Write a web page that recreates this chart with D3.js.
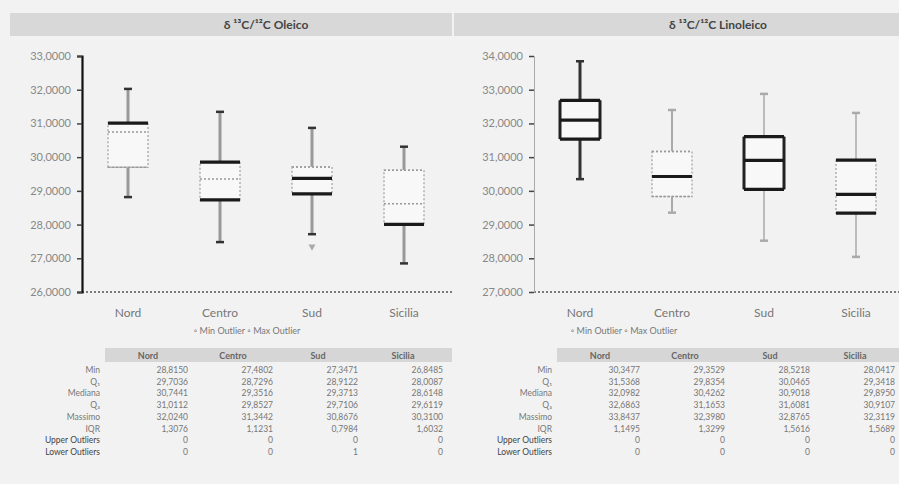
<!DOCTYPE html>
<html>
<head>
<meta charset="utf-8">
<script src="https://cdn.jsdelivr.net/npm/d3@7"></script>
<style>
body { margin: 0; background: #f2f2f2; font-family: Lato, 'Open Sans', sans-serif; }
svg { display: block; }
</style>
</head>
<body>
<script>
const categories = ['Nord', 'Centro', 'Sud', 'Sicilia']
const rowLabels = ['Min', 'Q\u2081', 'Mediana', 'Q\u2083', 'Massimo', 'IQR', 'Upper Outliers', 'Lower Outliers']

// δ13C/12C Oleico
const oleicoTicks = [26, 27, 28, 29, 30, 31, 32, 33]
const oleicoMin = [28.8150, 27.4802, 27.3471, 26.8485]
const oleicoQ1 = [29.7036, 28.7296, 28.9122, 28.0087]
const oleicoMedian = [30.7441, 29.3516, 29.3713, 28.6148]
const oleicoQ3 = [31.0112, 29.8527, 29.7106, 29.6119]
const oleicoMax = [32.0240, 31.3442, 30.8676, 30.3100]
const oleicoWhiskerLow = [28.8150, 27.4802, 27.7146, 26.8485]
const oleicoUpperOutliers = [0, 0, 0, 0]
const oleicoLowerOutliers = [0, 0, 1, 0]

// δ13C/12C Linoleico
const linoleicoTicks = [27, 28, 29, 30, 31, 32, 33, 34]
const linoleicoMin = [30.3477, 29.3529, 28.5218, 28.0417]
const linoleicoQ1 = [31.5368, 29.8354, 30.0465, 29.3418]
const linoleicoMedian = [32.0982, 30.4262, 30.9018, 29.8950]
const linoleicoQ3 = [32.6863, 31.1653, 31.6081, 30.9107]
const linoleicoMax = [33.8437, 32.3980, 32.8765, 32.3119]
const linoleicoWhiskerLow = [30.3477, 29.3529, 28.5218, 28.0417]
const linoleicoUpperOutliers = [0, 0, 0, 0]
const linoleicoLowerOutliers = [0, 0, 0, 0]

// which box edges came out dark in the scan
const oleicoStrong = [['q3'], ['q3', 'q1'], ['median', 'q1'], ['q1']]
const linoleicoStrong = [['sides', 'q3', 'median', 'q1'], ['median'], ['sides', 'q3', 'median', 'q1'], ['q3', 'median', 'q1']]

const it = d3.formatLocale({ decimal: ',', thousands: '.', grouping: [3], currency: ['€', ''] })
const fmt = it.format('.4f')

const panels = [
    {
        title: 'δ \u00b9\u00b3C/\u00b9\u00b2C Oleico', ox: 0, width: 452, barX: 10, legendX: 247,
        ticks: oleicoTicks, min: oleicoMin, q1: oleicoQ1, median: oleicoMedian, q3: oleicoQ3, max: oleicoMax,
        whiskerLow: oleicoWhiskerLow, upper: oleicoUpperOutliers, lower: oleicoLowerOutliers,
        strong: oleicoStrong, axisColor: '#111', axisWidth: 2.2,
        whiskerColor: ['#999', '#999', '#999', '#999'], whiskerWidth: [3, 3, 3, 3]
    },
    {
        title: 'δ \u00b9\u00b3C/\u00b9\u00b2C Linoleico', ox: 452, width: 447, barX: 2, legendX: 172,
        ticks: linoleicoTicks, min: linoleicoMin, q1: linoleicoQ1, median: linoleicoMedian, q3: linoleicoQ3, max: linoleicoMax,
        whiskerLow: linoleicoWhiskerLow, upper: linoleicoUpperOutliers, lower: linoleicoLowerOutliers,
        strong: linoleicoStrong, axisColor: '#aaa', axisWidth: 1,
        whiskerColor: ['#333', '#aaa', '#aaa', '#aaa'], whiskerWidth: [3, 2, 1.5, 1.5]
    }
]

const svg = d3.select('body').append('svg')
    .attr('width', 899).attr('height', 484)

panels.forEach((p, pi) => {
    svg.append('clipPath').attr('id', 'clip' + pi)
        .append('rect').attr('x', 0).attr('y', 0).attr('width', p.width).attr('height', 484)

    const g = svg.append('g')
        .attr('transform', `translate(${p.ox},0)`)
        .attr('clip-path', `url(#clip${pi})`)

    const y = d3.scaleLinear().domain([p.ticks[0], p.ticks[p.ticks.length - 1]]).range([292, 56])
    const x = d3.scalePoint().domain(categories).range([82, 450]).padding(0.5)

    // title bar
    g.append('rect').attr('x', p.barX).attr('y', 13).attr('width', 452 - p.barX).attr('height', 23).attr('fill', '#d8d8d8')
    g.append('text').attr('x', 266).attr('y', 29).attr('text-anchor', 'middle')
        .attr('font-size', 12).attr('font-weight', 'bold').attr('fill', '#444').text(p.title)

    // x axis dotted line
    g.append('line').attr('x1', 82).attr('x2', 460).attr('y1', y(p.ticks[0])).attr('y2', y(p.ticks[0]))
        .attr('stroke', '#555').attr('stroke-width', 1.3).attr('stroke-dasharray', '2,2')

    // y axis
    const yAxis = g.append('g').attr('transform', 'translate(82,0)')
        .call(d3.axisLeft(y).tickValues(p.ticks).tickFormat(fmt).tickSize(5).tickPadding(6))
    yAxis.select('.domain').attr('stroke', p.axisColor).attr('stroke-width', p.axisWidth)
    yAxis.selectAll('.tick line').attr('stroke', '#444').attr('stroke-width', 1.5)
    yAxis.selectAll('.tick text').attr('fill', '#888').attr('font-size', 11).attr('font-family', 'Lato, sans-serif')

    // boxes
    categories.forEach((c, i) => {
        const cx = x(c), bw = 40
        const wc = p.whiskerColor[i], ww = p.whiskerWidth[i]
        const strong = p.strong[i]
        // whiskers
        g.append('line').attr('x1', cx).attr('x2', cx).attr('y1', y(p.max[i])).attr('y2', y(p.q3[i]))
            .attr('stroke', wc).attr('stroke-width', ww)
        g.append('line').attr('x1', cx).attr('x2', cx).attr('y1', y(p.q1[i])).attr('y2', y(p.whiskerLow[i]))
            .attr('stroke', wc).attr('stroke-width', ww)
        ;[p.max[i], p.whiskerLow[i]].forEach(v => {
            g.append('line').attr('x1', cx - 4).attr('x2', cx + 4).attr('y1', y(v)).attr('y2', y(v))
                .attr('stroke', pi === 0 ? '#333' : wc).attr('stroke-width', 2.5)
        })
        // box
        g.append('rect').attr('x', cx - bw / 2).attr('y', y(p.q3[i]))
            .attr('width', bw).attr('height', y(p.q1[i]) - y(p.q3[i]))
            .attr('fill', '#f8f8f8').attr('stroke', '#b0b0b0').attr('stroke-width', 1.5)
            .attr('stroke-dasharray', strong.includes('sides') ? null : '2,2')
        if (strong.includes('sides')) {
            ;[cx - bw / 2, cx + bw / 2].forEach(sx => {
                g.append('line').attr('x1', sx).attr('x2', sx).attr('y1', y(p.q3[i])).attr('y2', y(p.q1[i]))
                    .attr('stroke', '#222').attr('stroke-width', 3)
            })
        }
        ;['q3', 'median', 'q1'].forEach(k => {
            const yy = y(p[k][i])
            const isStrong = strong.includes(k)
            g.append('line').attr('x1', cx - bw / 2).attr('x2', cx + bw / 2).attr('y1', yy).attr('y2', yy)
                .attr('stroke', isStrong ? '#1a1a1a' : '#999')
                .attr('stroke-width', isStrong ? 3.2 : 1.5)
                .attr('stroke-dasharray', isStrong ? null : '2,2')
        })
        // outliers
        if (p.lower[i] > 0) {
            g.append('path').attr('d', d3.symbol(d3.symbolTriangle, 22)())
                .attr('transform', `translate(${cx},${y(p.min[i])}) rotate(180)`)
                .attr('fill', '#aaa')
        }
        // category label
        g.append('text').attr('x', cx).attr('y', 317).attr('text-anchor', 'middle')
            .attr('font-size', 12).attr('fill', '#777').text(c)
    })

    // legend
    g.append('text').attr('x', p.legendX).attr('y', 334).attr('text-anchor', 'middle')
        .attr('font-size', 9).attr('fill', '#777')
        .text('\u25e6 Min Outlier     \u25e6 Max Outlier')

    // table
    const colStep = 85
    g.append('rect').attr('x', 105).attr('y', 348).attr('width', 360).attr('height', 14).attr('fill', '#d6d6d6')
    categories.forEach((c, i) => {
        g.append('text').attr('x', 148 + i * colStep).attr('y', 358.5).attr('text-anchor', 'middle')
            .attr('font-size', 9).attr('font-weight', 'bold').attr('fill', '#666').text(c)
    })
    const cols = [p.min, p.q1, p.median, p.q3, p.max]
    rowLabels.forEach((r, ri) => {
        const ry = 373 + ri * 11.7
        g.append('text').attr('x', 100).attr('y', ry).attr('text-anchor', 'end')
            .attr('font-size', 8.5).attr('fill', ri >= 6 ? '#444' : '#777').text(r)
        categories.forEach((c, i) => {
            let v
            if (ri < 5) v = fmt(cols[ri][i])
            else if (ri === 5) v = fmt(p.q3[i] - p.q1[i])
            else if (ri === 6) v = p.upper[i]
            else v = p.lower[i]
            g.append('text').attr('x', 188 + i * colStep).attr('y', ry).attr('text-anchor', 'end')
                .attr('font-size', 8.5).attr('fill', '#777').text(v)
        })
    })
})
</script>
</body>
</html>
